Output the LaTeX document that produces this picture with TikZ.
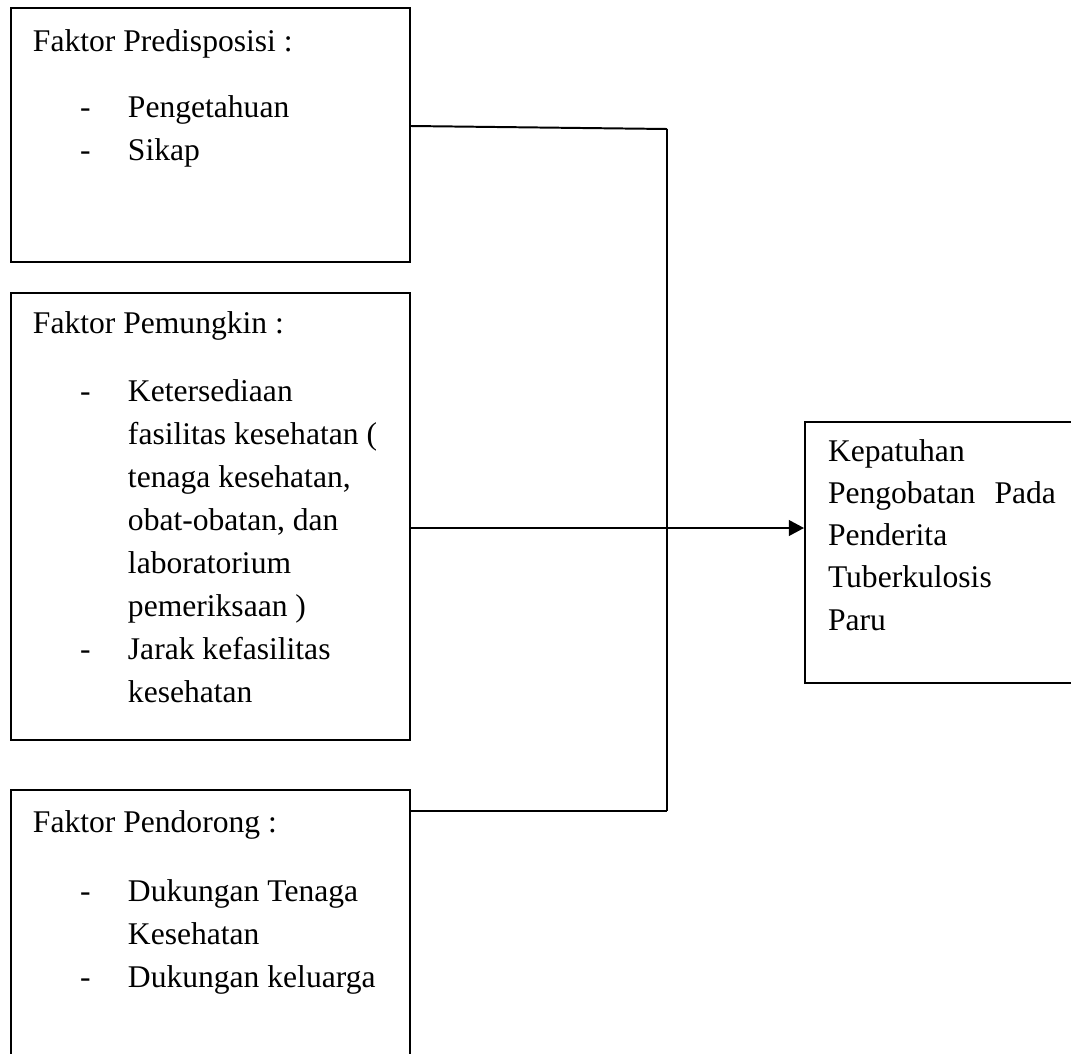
\documentclass[tikz,border=0pt]{standalone}
\usepackage{fontspec}
\setmainfont{Liberation Serif}
\usetikzlibrary{arrows.meta,fit}

\newcommand{\itm}[1]{\makebox[36.1pt][l]{\hspace*{17.9pt}-}#1}
\newcommand{\cnt}[1]{\hspace*{36.1pt}#1}

\begin{document}
\begin{tikzpicture}[x=0.38pt,y=-0.38pt,line width=0.75pt,
  box/.style={draw,rectangle,inner sep=0pt},
  txt/.style={anchor=base west,inner sep=0pt,align=left,font=\fontsize{12}{16.3}\selectfont},
  >={Triangle[length=5.8pt,width=6pt]}]
\useasboundingbox (0,0) rectangle (1071,1053);
% factor boxes
\node[box,fit={(11,8)(410,262)}](pre){};
\node[box,fit={(11,293)(410,740)}](pem){};
\node[box,fit={(11,790)(410,1070)}](pen){};
\node[box,fit={(805,422)(1085,683)}](kep){};
% texts (placed at the baseline of their last line)
\node[txt](tpre) at (32,160){Faktor Predisposisi :\\[8.8pt]
  \itm{Pengetahuan}\\
  \itm{Sikap}};
\node[txt](tpem) at (32,702){Faktor Pemungkin :\\[9.5pt]
  \itm{Ketersediaan}\\
  \cnt{fasilitas kesehatan (}\\
  \cnt{tenaga kesehatan,}\\
  \cnt{obat-obatan, dan}\\
  \cnt{laboratorium}\\
  \cnt{pemeriksaan )}\\
  \itm{Jarak kefasilitas}\\
  \cnt{kesehatan}};
\node[txt](tpen) at (32,987){Faktor Pendorong :\\[10pt]
  \itm{Dukungan Tenaga}\\
  \cnt{Kesehatan}\\
  \itm{Dukungan keluarga}};
\node[txt,font=\fontsize{12}{16}\selectfont](tkep) at (827,630){Kepatuhan\\
  \makebox[86.6pt][l]{Pengobatan\hfill Pada}\\
  Penderita\\
  Tuberkulosis\\
  Paru};
% connectors
\coordinate (j1) at (667,129);
\coordinate (j2) at (667,811);
\draw (pre.east |- 0,126) -- (j1);
\draw (j1) -- (j2);
\draw (pen.east |- j2) -- (j2);
\draw[->] (pem.east |- 0,528) -- (kep.west |- 0,528);
\end{tikzpicture}
\end{document}
